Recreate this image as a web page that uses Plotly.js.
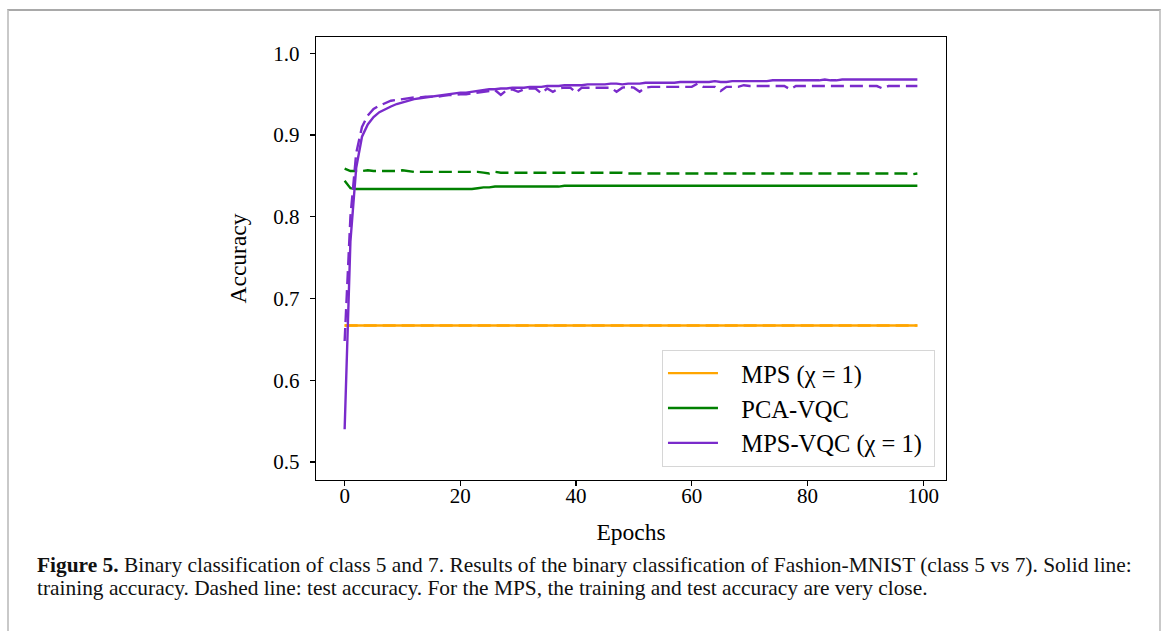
<!DOCTYPE html>
<html>
<head>
<meta charset="utf-8">
<script src="https://cdn.plot.ly/plotly-3.0.1.min.js"></script>
<style>
  html, body { margin: 0; padding: 0; background: #ffffff; }
  #wrap { position: relative; width: 1167px; height: 631px; overflow: hidden; }
  #frame { position: absolute; left: 7px; top: 9px; width: 1154px; height: 640px;
           border: 2px solid #c9c9c9; border-top-color: #a9a9a9; box-sizing: border-box; pointer-events: none; }
  #chart { position: absolute; left: 0; top: 0; width: 1167px; height: 631px; }
</style>
</head>
<body>
<div id="wrap">
  <div id="chart"></div>
  <div id="frame"></div>
</div>
<script>
const epochs = Array.from({length: 100}, (_, i) => i);

const mpsTrain = Array(100).fill(0.667);
const mpsTest = Array(100).fill(0.667);

const pcaTrain = [0.844, 0.835, 0.834, 0.834, 0.834, 0.834, 0.834, 0.834, 0.834, 0.834,
  0.834, 0.834, 0.834, 0.834, 0.834, 0.834, 0.834, 0.834, 0.834, 0.834,
  0.834, 0.834, 0.834, 0.835, 0.836, 0.836, 0.837, 0.837, 0.837, 0.837,
  0.837, 0.837, 0.837, 0.837, 0.837, 0.837, 0.837, 0.837, 0.838, 0.838,
  0.838, 0.838, 0.838, 0.838, 0.838, 0.838, 0.838, 0.838, 0.838, 0.838,
  0.838, 0.838, 0.838, 0.838, 0.838, 0.838, 0.838, 0.838, 0.838, 0.838,
  0.838, 0.838, 0.838, 0.838, 0.838, 0.838, 0.838, 0.838, 0.838, 0.838,
  0.838, 0.838, 0.838, 0.838, 0.838, 0.838, 0.838, 0.838, 0.838, 0.838,
  0.838, 0.838, 0.838, 0.838, 0.838, 0.838, 0.838, 0.838, 0.838, 0.838,
  0.838, 0.838, 0.838, 0.838, 0.838, 0.838, 0.838, 0.838, 0.838, 0.838];

const pcaTest = [0.859, 0.856, 0.856, 0.856, 0.857, 0.856, 0.856, 0.856, 0.856, 0.856,
  0.857, 0.856, 0.855, 0.855, 0.855, 0.855, 0.855, 0.855, 0.855, 0.855,
  0.855, 0.855, 0.855, 0.855, 0.854, 0.853, 0.855, 0.854, 0.854, 0.854,
  0.854, 0.854, 0.854, 0.854, 0.854, 0.854, 0.854, 0.854, 0.854, 0.854,
  0.854, 0.854, 0.854, 0.854, 0.854, 0.854, 0.854, 0.854, 0.854, 0.853,
  0.853, 0.853, 0.853, 0.853, 0.853, 0.853, 0.853, 0.853, 0.853, 0.853,
  0.853, 0.853, 0.853, 0.853, 0.853, 0.853, 0.853, 0.853, 0.853, 0.853,
  0.853, 0.853, 0.853, 0.853, 0.853, 0.853, 0.853, 0.853, 0.853, 0.853,
  0.853, 0.853, 0.853, 0.853, 0.853, 0.853, 0.853, 0.853, 0.853, 0.853,
  0.853, 0.853, 0.853, 0.853, 0.853, 0.853, 0.853, 0.853, 0.852, 0.853];

const mpsVqcTrain = [0.540, 0.770, 0.860, 0.898, 0.913, 0.922, 0.928, 0.932, 0.935, 0.938,
  0.940, 0.942, 0.944, 0.945, 0.946, 0.947, 0.948, 0.949, 0.950, 0.951,
  0.952, 0.952, 0.953, 0.954, 0.955, 0.956, 0.956, 0.957, 0.957, 0.958,
  0.958, 0.958, 0.959, 0.959, 0.959, 0.960, 0.960, 0.960, 0.961, 0.961,
  0.961, 0.961, 0.962, 0.962, 0.962, 0.962, 0.963, 0.963, 0.962, 0.963,
  0.963, 0.963, 0.964, 0.964, 0.964, 0.964, 0.964, 0.964, 0.965, 0.965,
  0.965, 0.965, 0.965, 0.965, 0.966, 0.965, 0.965, 0.966, 0.966, 0.966,
  0.966, 0.966, 0.966, 0.966, 0.967, 0.967, 0.967, 0.967, 0.967, 0.967,
  0.967, 0.967, 0.967, 0.968, 0.967, 0.967, 0.968, 0.968, 0.968, 0.968,
  0.968, 0.968, 0.968, 0.968, 0.968, 0.968, 0.968, 0.968, 0.968, 0.968];

const mpsVqcTest = [0.648, 0.800, 0.878, 0.910, 0.924, 0.932, 0.936, 0.939, 0.942, 0.943,
  0.944, 0.945, 0.946, 0.946, 0.947, 0.947, 0.947, 0.948, 0.949, 0.949,
  0.950, 0.950, 0.951, 0.952, 0.953, 0.954, 0.955, 0.949, 0.955, 0.956,
  0.953, 0.956, 0.957, 0.957, 0.951, 0.957, 0.953, 0.957, 0.958, 0.958,
  0.952, 0.958, 0.958, 0.958, 0.958, 0.958, 0.958, 0.953, 0.958, 0.959,
  0.958, 0.953, 0.958, 0.959, 0.959, 0.959, 0.959, 0.959, 0.959, 0.959,
  0.959, 0.963, 0.959, 0.959, 0.959, 0.954, 0.959, 0.959, 0.959, 0.961,
  0.960, 0.960, 0.960, 0.960, 0.960, 0.960, 0.960, 0.956, 0.960, 0.960,
  0.960, 0.960, 0.960, 0.960, 0.960, 0.960, 0.960, 0.960, 0.960, 0.960,
  0.960, 0.960, 0.960, 0.957, 0.960, 0.960, 0.960, 0.960, 0.960, 0.960];

const seriesNames = ['MPS (\u03c7 = 1)', 'PCA-VQC', 'MPS-VQC (\u03c7 = 1)'];
const xTicks = [0, 20, 40, 60, 80, 100];
const yTicks = [0.5, 0.6, 0.7, 0.8, 0.9, 1.0];
const captionLines = [
  '<b>Figure 5.</b> Binary classification of class 5 and 7. Results of the binary classification of Fashion-MNIST (class 5 vs 7). Solid line:',
  'training accuracy. Dashed line: test accuracy. For the MPS, the training and test accuracy are very close.'
];

const ORANGE = '#ffa500', GREEN = '#008000', PURPLE = '#7a2bcb';
const LW = 2.4;
const DASH = '13px,6px';
const pad = s => '\u00a0\u00a0\u00a0' + s + '\u00a0';

const traces = [
  {x: epochs, y: mpsTrain, name: pad(seriesNames[0]), mode: 'lines', line: {color: ORANGE, width: LW}, legendgroup: 'a'},
  {x: epochs, y: mpsTest, name: seriesNames[0], mode: 'lines', line: {color: ORANGE, width: LW, dash: DASH}, showlegend: false, legendgroup: 'a'},
  {x: epochs, y: pcaTrain, name: pad(seriesNames[1]), mode: 'lines', line: {color: GREEN, width: LW}, legendgroup: 'b'},
  {x: epochs, y: pcaTest, name: seriesNames[1], mode: 'lines', line: {color: GREEN, width: LW, dash: DASH}, showlegend: false, legendgroup: 'b'},
  {x: epochs, y: mpsVqcTrain, name: pad(seriesNames[2]), mode: 'lines', line: {color: PURPLE, width: LW}, legendgroup: 'c'},
  {x: epochs, y: mpsVqcTest, name: seriesNames[2], mode: 'lines', line: {color: PURPLE, width: LW, dash: DASH}, showlegend: false, legendgroup: 'c'}
];

const serif = 'Liberation Serif, Times New Roman, serif';

const layout = {
  width: 1167, height: 631,
  margin: {l: 316, r: 221, t: 37, b: 151},
  paper_bgcolor: 'rgba(0,0,0,0)',
  plot_bgcolor: '#ffffff',
  font: {family: serif, color: '#000000', size: 20},
  showlegend: true,
  xaxis: {
    range: [-4.95, 103.95], tickvals: xTicks, ticktext: xTicks.map(String),
    ticks: 'outside', ticklen: 5, tickwidth: 1.2, tickcolor: '#000',
    showline: true, linecolor: '#000', linewidth: 1.3, mirror: true,
    showgrid: false, zeroline: false, ticklabelstandoff: -9,
    tickfont: {family: serif, size: 21},
    title: {text: 'Epochs', font: {family: serif, size: 23.5}, standoff: 17}
  },
  yaxis: {
    range: [0.478, 1.02], tickvals: yTicks, ticktext: yTicks.map(v => v.toFixed(1)),
    ticks: 'outside', ticklen: 5, tickwidth: 1.2, tickcolor: '#000',
    showline: true, linecolor: '#000', linewidth: 1.3, mirror: true,
    showgrid: false, zeroline: false, ticklabelstandoff: 6,
    tickfont: {family: serif, size: 21},
    title: {text: 'Accuracy', font: {family: serif, size: 23.5}, standoff: 20}
  },
  legend: {
    x: 0.9825, y: 0.03, xanchor: 'right', yanchor: 'bottom',
    bgcolor: '#ffffff', bordercolor: '#d6d6d6', borderwidth: 1,
    font: {family: serif, size: 24.5}, tracegroupgap: 0, itemwidth: 50
  },
  annotations: [
    {text: captionLines[0], xref: 'paper', yref: 'paper', x: (35 - 316) / 630, y: (480 - 565) / 443,
     xanchor: 'left', yanchor: 'middle', showarrow: false, align: 'left',
     font: {family: serif, size: 21.4, color: '#111'}},
    {text: captionLines[1], xref: 'paper', yref: 'paper', x: (35 - 316) / 630, y: (480 - 588) / 443,
     xanchor: 'left', yanchor: 'middle', showarrow: false, align: 'left',
     font: {family: serif, size: 21.4, color: '#111'}}
  ]
};

Plotly.newPlot('chart', traces, layout, {displayModeBar: false, staticPlot: true});
</script>
</body>
</html>
